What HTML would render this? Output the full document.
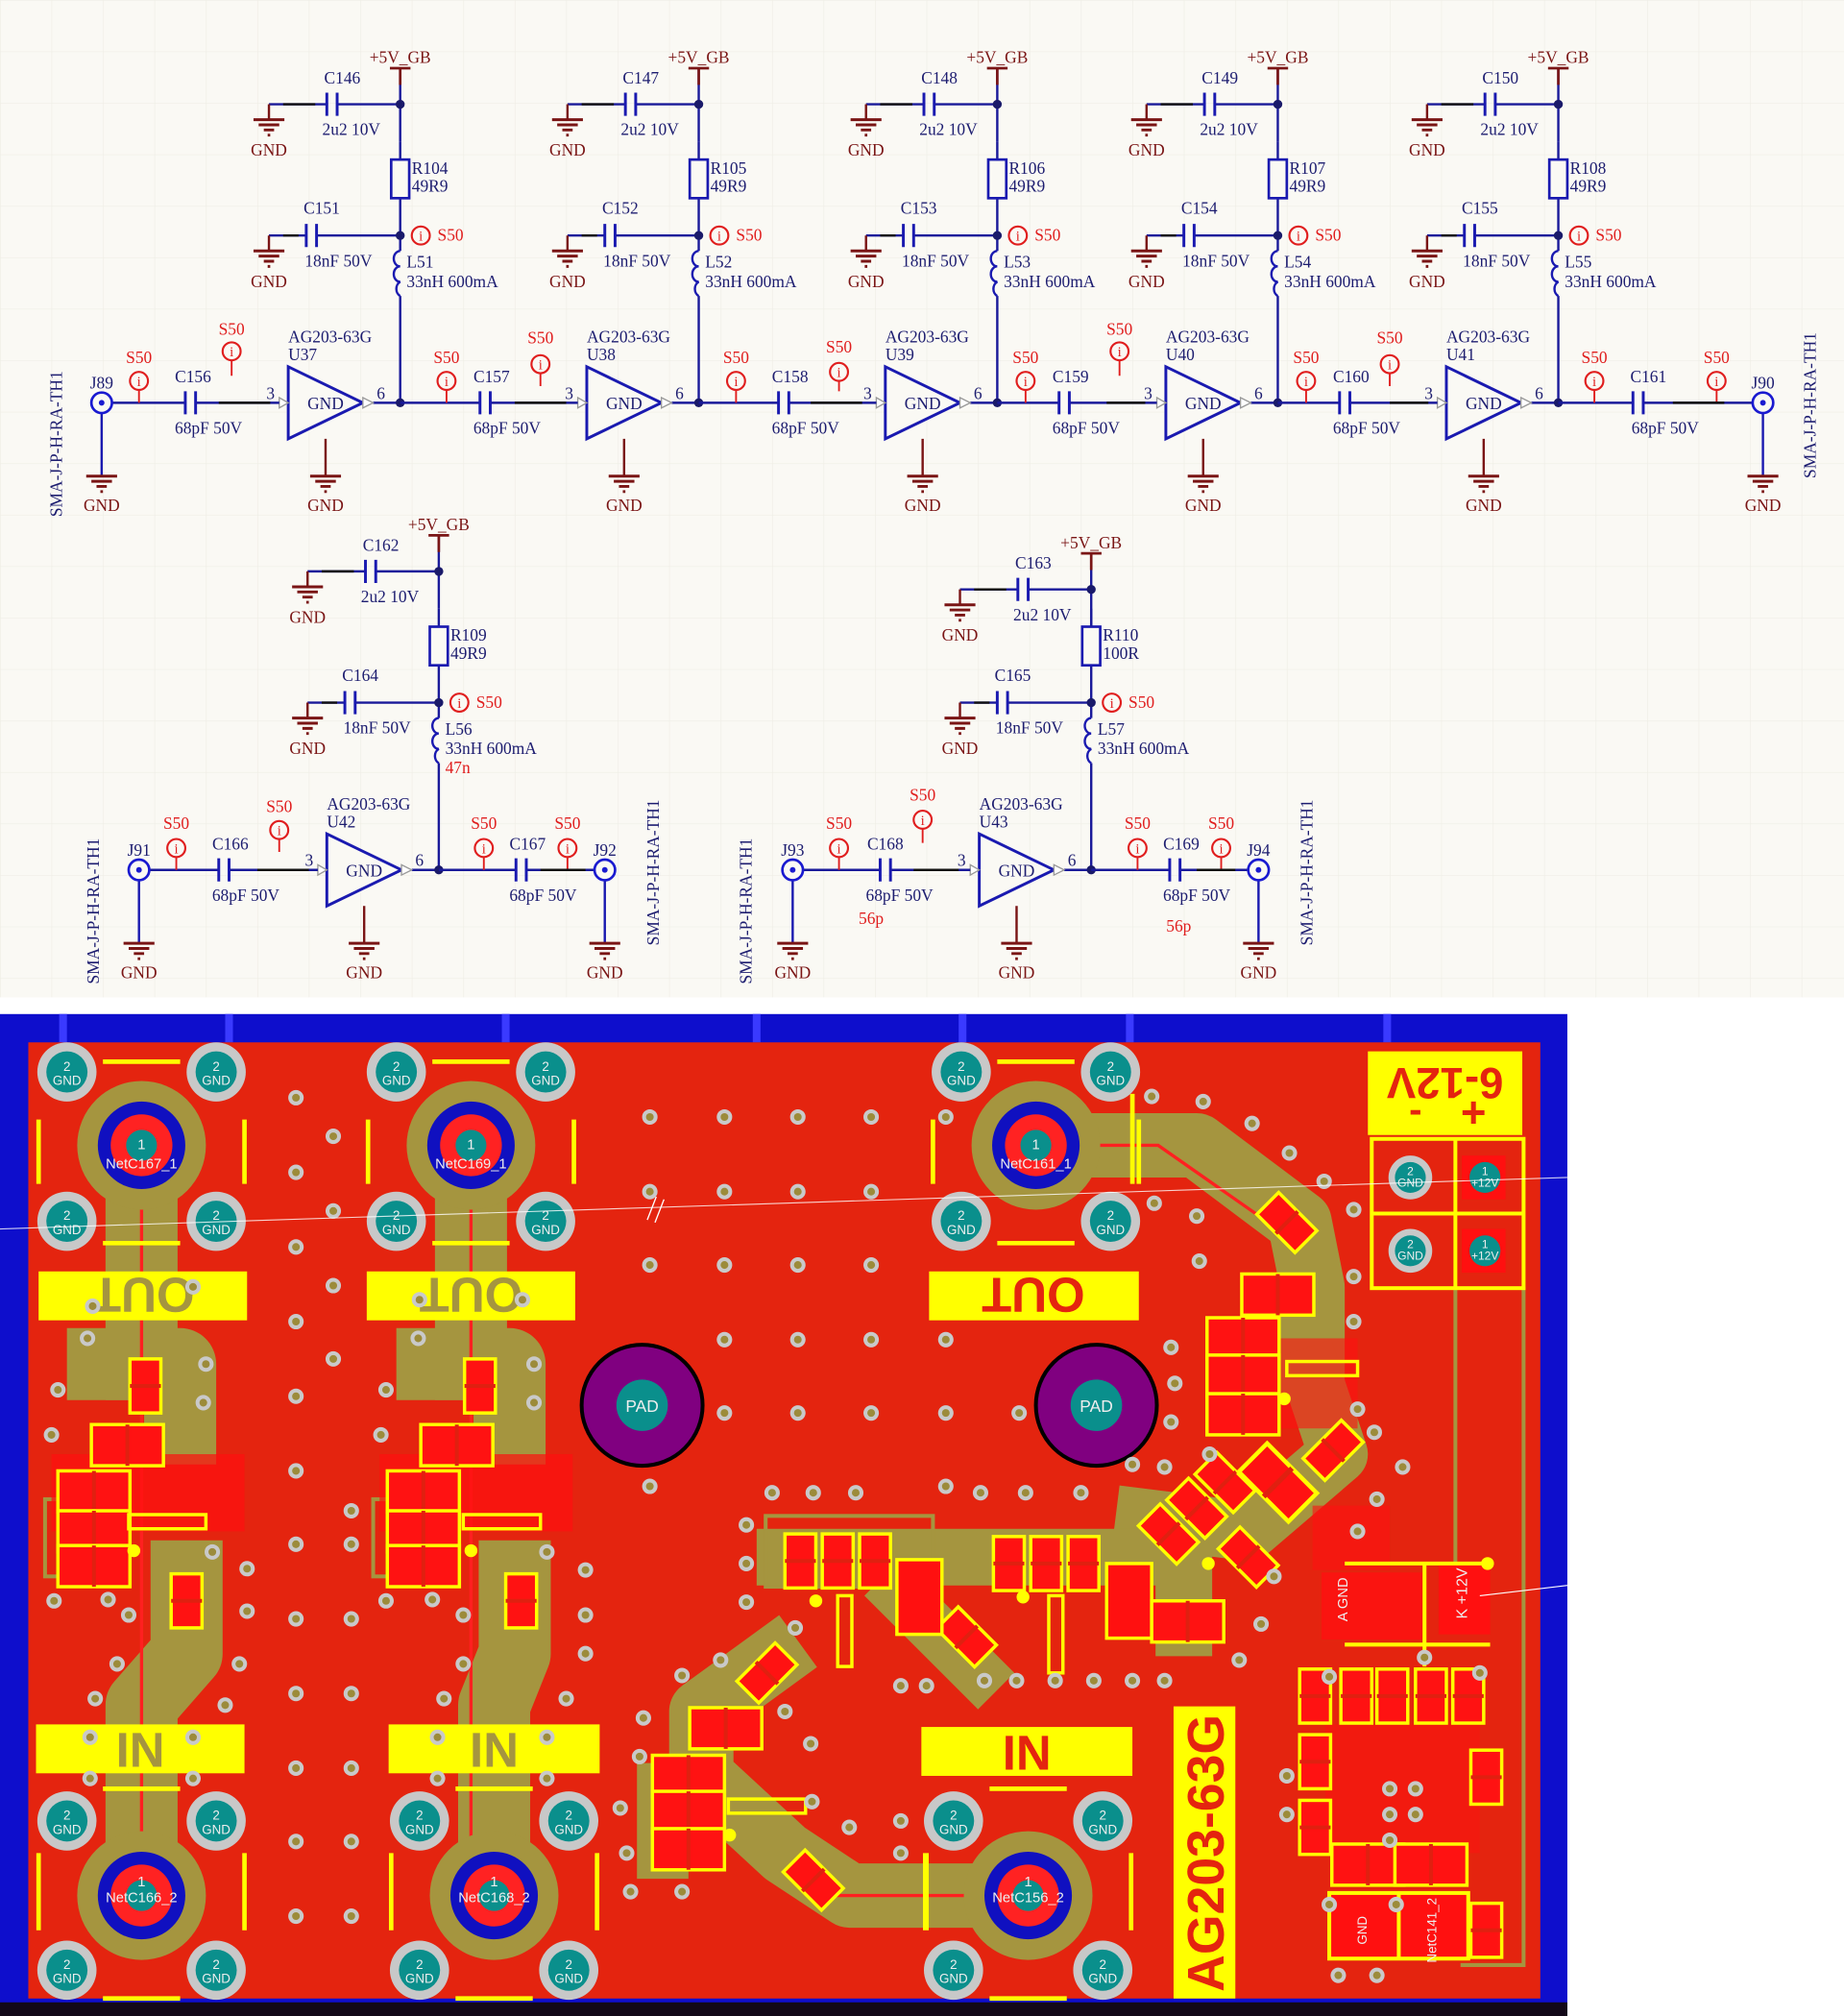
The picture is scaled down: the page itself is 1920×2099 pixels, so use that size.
<!DOCTYPE html>
<html><head><meta charset="utf-8">
<style>
html,body{margin:0;padding:0;background:#fff;}
svg{display:block;}
.s text{font-family:"Liberation Serif",serif;font-size:13px;fill:#1d1d70;}
.s text.dr{fill:#7a1515;}
.s text.rd{fill:#e01e1e;}
.s text.m{text-anchor:middle;}
.p text{font-family:"Liberation Sans",sans-serif;}
</style></head>
<body>
<svg width="1920" height="2099" viewBox="0 0 1433 1566.6" preserveAspectRatio="none" xmlns="http://www.w3.org/2000/svg">
<defs>
<pattern id="grid" width="40" height="40" patternUnits="userSpaceOnUse">
<path d="M40 0H0V40" fill="none" stroke="#efeee6" stroke-width="1"/>
</pattern>
<g id="gnd" stroke="#7a1515" stroke-width="2.2"><path d="M-12 0H12M-8 4H8M-4 8H4M-1 12H1"/></g>
<g id="cap" stroke="#1a1ab0" stroke-width="2.2"><path d="M-4 -9V9M4 -9V9"/></g>
<g id="s50"><circle r="7" fill="#faf9f4" stroke="#e01e1e" stroke-width="1.6"/><text y="4" text-anchor="middle" style="font-family:'Liberation Serif',serif;font-size:11px;fill:#e01e1e">i</text></g>
<g id="c1" fill="none" stroke-width="1.8">
<path d="M311 53V110" stroke="#1a1a9a"/>
<path d="M303 53H319M311 53V66" stroke="#7a1515" stroke-width="2"/>
<path d="M209 81H254M262 81H311" stroke="#1a1a9a"/>
<path d="M220 81H245" stroke="#111"/>
<path d="M209 81V93" stroke="#7a1515"/>
<path d="M254 72V90M262 72V90" stroke="#1a1ab0" stroke-width="2.2"/>
<circle cx="311" cy="81" r="3.5" fill="#1a1a6a" stroke="none"/>
<use href="#gnd" x="209" y="93"/>
</g>
<g id="stg" fill="none" stroke-width="1.8">
<path d="M311 110V124M311 154V195M311 230V313M290 313H311" stroke="#1a1a9a"/>
<path d="M209 183H238M246 183H311" stroke="#1a1a9a"/>
<path d="M220 183H232" stroke="#111"/>
<path d="M209 183V195M253 341V370" stroke="#7a1515"/>
<path d="M238 174V192M246 174V192" stroke="#1a1ab0" stroke-width="2.2"/>
<rect x="304" y="124" width="14" height="30" stroke="#1a1ab0" stroke-width="2"/>
<path d="M311 195a5 6 0 0 0 0 12a5 6 0 0 0 0 12a5 6 0 0 0 0 11" stroke="#1a1ab0" stroke-width="1.8"/>
<polygon points="224,285 282,313 224,341" stroke="#1a1ab0" stroke-width="2.2" fill="#faf9f4"/>
<polygon points="217,309 224,313 217,317" stroke="#999" fill="#fff" stroke-width="1"/>
<polygon points="282,309 290,313 282,317" stroke="#999" fill="#fff" stroke-width="1"/>
<circle cx="311" cy="183" r="3.5" fill="#1a1a6a" stroke="none"/>
<circle cx="311" cy="313" r="3.5" fill="#1a1a6a" stroke="none"/>
<use href="#gnd" x="209" y="195"/><use href="#gnd" x="253" y="370"/>
<use href="#s50" x="327" y="183"/>
</g>
<g id="jk"><circle r="8" fill="#faf9f4" stroke="#1a1ad0" stroke-width="2"/><circle r="2.2" fill="#1a1ad0"/></g>
<g id="via"><circle r="6" fill="#c9c9c9"/><circle r="3" fill="#9c8b3a"/></g>
<g id="gp"><circle r="23" fill="#c8c8c8"/><circle r="16" fill="#0a8f8c"/><text y="-1" text-anchor="middle" style="font-family:'Liberation Sans',sans-serif;font-size:10px;fill:#eee">2</text><text y="10" text-anchor="middle" style="font-family:'Liberation Sans',sans-serif;font-size:10px;fill:#eee">GND</text></g>
<g id="cm"><rect x="-12" y="-21" width="24" height="42" fill="#ff1212" stroke="#ffff00" stroke-width="2.6"/><path d="M-12 0H12" stroke="#e02010" stroke-width="3"/></g>
<g id="cmb"><rect x="-28" y="-16" width="56" height="32" fill="#ff1212" stroke="#ffff00" stroke-width="2.6"/><path d="M0 -16V16" stroke="#e02010" stroke-width="3"/></g>
</defs>

<rect x="0" y="0" width="1433" height="775" fill="#faf9f4"/>
<rect x="0" y="0" width="1433" height="775" fill="url(#grid)"/>
<g class="s">
<use href="#stg"/><use href="#c1"/>
<use href="#stg" transform="translate(232,0)"/><use href="#c1" transform="translate(232,0)"/>
<use href="#stg" transform="translate(464,0)"/><use href="#c1" transform="translate(464,0)"/>
<use href="#stg" transform="translate(682,0)"/><use href="#c1" transform="translate(682,0)"/>
<use href="#stg" transform="translate(900,0)"/><use href="#c1" transform="translate(900,0)"/>
<use href="#stg" transform="translate(30,363)"/><use href="#c1" transform="translate(30,363)"/>
<use href="#stg" transform="translate(537,363)"/><use href="#c1" transform="translate(537,377)"/>

<g fill="none" stroke="#1a1a9a" stroke-width="1.8">
<path d="M87 313H144M152 313H217"/>
<path d="M311 313H373M381 313H449"/>
<path d="M543 313H605M613 313H681"/>
<path d="M775 313H823M831 313H899"/>
<path d="M993 313H1041M1049 313H1117"/>
<path d="M1211 313H1269M1277 313H1362"/>
<path d="M108 676H170M178 676H247"/>
<path d="M341 676H401M409 676H462"/>
<path d="M624 676H684M692 676H754"/>
<path d="M848 676H909M917 676H970"/>
<path d="M79 321V370M1370 321V370M108 684V733M470 684V733M616 684V733M978 684V733" stroke="#1a1ab0"/>
<path d="M108 303V313M180 280V292M347 303V313M420 290V300M572 303V313M652 296V304M797 303V313M870 280V292M1015 303V313M1080 290V300M1239 303V313M1334 303V313M137 666V676M217 652V662M376 666V676M441 666V676M652 666V676M717 644V655M884 666V676M949 666V676" stroke="#e01e1e" stroke-width="1.4"/>
</g>
<g fill="none" stroke="#111" stroke-width="1.8"><path d="M170 313H210M400 313H440M630 313H670M860 313H890M1080 313H1110M1300 313H1340M200 676H240M420 676H455M710 676H745M930 676H960"/></g>
<use href="#cap" x="148" y="313"/><use href="#cap" x="377" y="313"/><use href="#cap" x="609" y="313"/><use href="#cap" x="827" y="313"/><use href="#cap" x="1045" y="313"/><use href="#cap" x="1273" y="313"/>
<use href="#cap" x="174" y="676"/><use href="#cap" x="405" y="676"/><use href="#cap" x="688" y="676"/><use href="#cap" x="913" y="676"/>
<use href="#jk" x="79" y="313"/><use href="#jk" x="1370" y="313"/><use href="#jk" x="108" y="676"/><use href="#jk" x="470" y="676"/><use href="#jk" x="616" y="676"/><use href="#jk" x="978" y="676"/>
<use href="#gnd" x="79" y="370"/><use href="#gnd" x="1370" y="370"/><use href="#gnd" x="108" y="733"/><use href="#gnd" x="470" y="733"/><use href="#gnd" x="616" y="733"/><use href="#gnd" x="978" y="733"/>
<use href="#s50" x="108" y="296"/><use href="#s50" x="180" y="273"/><use href="#s50" x="347" y="296"/><use href="#s50" x="420" y="283"/><use href="#s50" x="572" y="296"/><use href="#s50" x="652" y="289"/><use href="#s50" x="797" y="296"/><use href="#s50" x="870" y="273"/><use href="#s50" x="1015" y="296"/><use href="#s50" x="1080" y="283"/><use href="#s50" x="1239" y="296"/><use href="#s50" x="1334" y="296"/>
<use href="#s50" x="137" y="659"/><use href="#s50" x="217" y="645"/><use href="#s50" x="376" y="659"/><use href="#s50" x="441" y="659"/><use href="#s50" x="652" y="659"/><use href="#s50" x="717" y="637"/><use href="#s50" x="884" y="659"/><use href="#s50" x="949" y="659"/>

<g>
<text x="311" y="49" class="dr m">+5V_GB</text><text x="266" y="65" class="m">C146</text><text x="273" y="105" class="m">2u2 10V</text><text x="209" y="121" class="dr m">GND</text>
<text x="320" y="135">R104</text><text x="320" y="149">49R9</text><text x="250" y="166" class="m">C151</text><text x="263" y="207" class="m">18nF 50V</text><text x="209" y="223" class="dr m">GND</text>
<text x="340" y="187" class="rd">S50</text><text x="316" y="208">L51</text><text x="316" y="223">33nH 600mA</text>
<text x="224" y="266">AG203-63G</text><text x="224" y="280">U37</text><text x="207" y="310">3</text><text x="296" y="310" class="m">6</text><text x="253" y="318" class="m">GND</text><text x="253" y="397" class="dr m">GND</text>
</g>
<g transform="translate(232,0)">
<text x="311" y="49" class="dr m">+5V_GB</text><text x="266" y="65" class="m">C147</text><text x="273" y="105" class="m">2u2 10V</text><text x="209" y="121" class="dr m">GND</text>
<text x="320" y="135">R105</text><text x="320" y="149">49R9</text><text x="250" y="166" class="m">C152</text><text x="263" y="207" class="m">18nF 50V</text><text x="209" y="223" class="dr m">GND</text>
<text x="340" y="187" class="rd">S50</text><text x="316" y="208">L52</text><text x="316" y="223">33nH 600mA</text>
<text x="224" y="266">AG203-63G</text><text x="224" y="280">U38</text><text x="207" y="310">3</text><text x="296" y="310" class="m">6</text><text x="253" y="318" class="m">GND</text><text x="253" y="397" class="dr m">GND</text>
</g>
<g transform="translate(464,0)">
<text x="311" y="49" class="dr m">+5V_GB</text><text x="266" y="65" class="m">C148</text><text x="273" y="105" class="m">2u2 10V</text><text x="209" y="121" class="dr m">GND</text>
<text x="320" y="135">R106</text><text x="320" y="149">49R9</text><text x="250" y="166" class="m">C153</text><text x="263" y="207" class="m">18nF 50V</text><text x="209" y="223" class="dr m">GND</text>
<text x="340" y="187" class="rd">S50</text><text x="316" y="208">L53</text><text x="316" y="223">33nH 600mA</text>
<text x="224" y="266">AG203-63G</text><text x="224" y="280">U39</text><text x="207" y="310">3</text><text x="296" y="310" class="m">6</text><text x="253" y="318" class="m">GND</text><text x="253" y="397" class="dr m">GND</text>
</g>
<g transform="translate(682,0)">
<text x="311" y="49" class="dr m">+5V_GB</text><text x="266" y="65" class="m">C149</text><text x="273" y="105" class="m">2u2 10V</text><text x="209" y="121" class="dr m">GND</text>
<text x="320" y="135">R107</text><text x="320" y="149">49R9</text><text x="250" y="166" class="m">C154</text><text x="263" y="207" class="m">18nF 50V</text><text x="209" y="223" class="dr m">GND</text>
<text x="340" y="187" class="rd">S50</text><text x="316" y="208">L54</text><text x="316" y="223">33nH 600mA</text>
<text x="224" y="266">AG203-63G</text><text x="224" y="280">U40</text><text x="207" y="310">3</text><text x="296" y="310" class="m">6</text><text x="253" y="318" class="m">GND</text><text x="253" y="397" class="dr m">GND</text>
</g>
<g transform="translate(900,0)">
<text x="311" y="49" class="dr m">+5V_GB</text><text x="266" y="65" class="m">C150</text><text x="273" y="105" class="m">2u2 10V</text><text x="209" y="121" class="dr m">GND</text>
<text x="320" y="135">R108</text><text x="320" y="149">49R9</text><text x="250" y="166" class="m">C155</text><text x="263" y="207" class="m">18nF 50V</text><text x="209" y="223" class="dr m">GND</text>
<text x="340" y="187" class="rd">S50</text><text x="316" y="208">L55</text><text x="316" y="223">33nH 600mA</text>
<text x="224" y="266">AG203-63G</text><text x="224" y="280">U41</text><text x="207" y="310">3</text><text x="296" y="310" class="m">6</text><text x="253" y="318" class="m">GND</text><text x="253" y="397" class="dr m">GND</text>
</g>
<g transform="translate(30,363)">
<text x="311" y="49" class="dr m">+5V_GB</text><text x="266" y="65" class="m">C162</text><text x="273" y="105" class="m">2u2 10V</text><text x="209" y="121" class="dr m">GND</text>
<text x="320" y="135">R109</text><text x="320" y="149">49R9</text><text x="250" y="166" class="m">C164</text><text x="263" y="207" class="m">18nF 50V</text><text x="209" y="223" class="dr m">GND</text>
<text x="340" y="187" class="rd">S50</text><text x="316" y="208">L56</text><text x="316" y="223">33nH 600mA</text><text x="316" y="238" class="rd">47n</text>
<text x="224" y="266">AG203-63G</text><text x="224" y="280">U42</text><text x="207" y="310">3</text><text x="296" y="310" class="m">6</text><text x="253" y="318" class="m">GND</text><text x="253" y="397" class="dr m">GND</text>
</g>
<g transform="translate(537,363)">
<text x="311" y="63" class="dr m">+5V_GB</text><text x="266" y="79" class="m">C163</text><text x="273" y="119" class="m">2u2 10V</text><text x="209" y="135" class="dr m">GND</text>
<text x="320" y="135">R110</text><text x="320" y="149">100R</text><text x="250" y="166" class="m">C165</text><text x="263" y="207" class="m">18nF 50V</text><text x="209" y="223" class="dr m">GND</text>
<text x="340" y="187" class="rd">S50</text><text x="316" y="208">L57</text><text x="316" y="223">33nH 600mA</text>
<text x="224" y="266">AG203-63G</text><text x="224" y="280">U43</text><text x="207" y="310">3</text><text x="296" y="310" class="m">6</text><text x="253" y="318" class="m">GND</text><text x="253" y="397" class="dr m">GND</text>
</g>
<text x="79" y="302" class="m">J89</text><text x="150" y="297" class="m">C156</text><text x="162" y="337" class="m">68pF 50V</text><text x="79" y="397" class="dr m">GND</text>
<text x="108" y="282" class="rd m">S50</text><text x="180" y="260" class="rd m">S50</text>
<text x="382" y="297" class="m">C157</text><text x="394" y="337" class="m">68pF 50V</text><text x="347" y="282" class="rd m">S50</text><text x="420" y="267" class="rd m">S50</text>
<text x="614" y="297" class="m">C158</text><text x="626" y="337" class="m">68pF 50V</text><text x="572" y="282" class="rd m">S50</text><text x="652" y="274" class="rd m">S50</text>
<text x="832" y="297" class="m">C159</text><text x="844" y="337" class="m">68pF 50V</text><text x="797" y="282" class="rd m">S50</text><text x="870" y="260" class="rd m">S50</text>
<text x="1050" y="297" class="m">C160</text><text x="1062" y="337" class="m">68pF 50V</text><text x="1015" y="282" class="rd m">S50</text><text x="1080" y="267" class="rd m">S50</text>
<text x="1281" y="297" class="m">C161</text><text x="1294" y="337" class="m">68pF 50V</text><text x="1239" y="282" class="rd m">S50</text><text x="1334" y="282" class="rd m">S50</text>
<text x="1370" y="302" class="m">J90</text><text x="1370" y="397" class="dr m">GND</text>
<text transform="translate(48,345) rotate(-90)" class="m">SMA-J-P-H-RA-TH1</text>
<text transform="translate(1411,315) rotate(-90)" class="m">SMA-J-P-H-RA-TH1</text>
<text x="108" y="665" class="m">J91</text><text x="179" y="660" class="m">C166</text><text x="191" y="700" class="m">68pF 50V</text><text x="108" y="760" class="dr m">GND</text>
<text x="137" y="644" class="rd m">S50</text><text x="217" y="631" class="rd m">S50</text>
<text x="410" y="660" class="m">C167</text><text x="422" y="700" class="m">68pF 50V</text><text x="376" y="644" class="rd m">S50</text><text x="441" y="644" class="rd m">S50</text>
<text x="470" y="665" class="m">J92</text><text x="470" y="760" class="dr m">GND</text>
<text x="616" y="665" class="m">J93</text><text x="688" y="660" class="m">C168</text><text x="699" y="700" class="m">68pF 50V</text><text x="616" y="760" class="dr m">GND</text>
<text x="652" y="644" class="rd m">S50</text><text x="717" y="622" class="rd m">S50</text><text x="677" y="718" class="rd m">56p</text>
<text x="918" y="660" class="m">C169</text><text x="930" y="700" class="m">68pF 50V</text><text x="884" y="644" class="rd m">S50</text><text x="949" y="644" class="rd m">S50</text><text x="916" y="724" class="rd m">56p</text>
<text x="978" y="665" class="m">J94</text><text x="978" y="760" class="dr m">GND</text>
<text transform="translate(77,708) rotate(-90)" class="m">SMA-J-P-H-RA-TH1</text>
<text transform="translate(512,678) rotate(-90)" class="m">SMA-J-P-H-RA-TH1</text>
<text transform="translate(584,708) rotate(-90)" class="m">SMA-J-P-H-RA-TH1</text>
<text transform="translate(1020,678) rotate(-90)" class="m">SMA-J-P-H-RA-TH1</text>
</g>

<g class="p">
<rect x="0" y="788" width="1218" height="779" fill="#0e0ecc"/>
<g fill="#3a3aff"><rect x="46" y="788" width="6" height="22"/><rect x="175" y="788" width="6" height="22"/><rect x="390" y="788" width="6" height="22"/><rect x="585" y="788" width="6" height="22"/><rect x="745" y="788" width="6" height="22"/><rect x="875" y="788" width="6" height="22"/><rect x="1075" y="788" width="6" height="22"/></g>
<rect x="0" y="1556" width="1218" height="11" fill="#120818"/>
<rect x="22" y="810" width="1175" height="743" fill="#e4240f"/>

<g fill="none" stroke="#a5953f" stroke-linejoin="round" stroke-linecap="square">
<path d="M110 890V1060" stroke-width="56"/>
<path d="M80 1060H140V1110" stroke-width="56"/>
<path d="M145 1225V1285L110 1325V1473" stroke-width="56"/>
<path d="M366 890V1060" stroke-width="56"/>
<path d="M336 1060H396V1110" stroke-width="56"/>
<path d="M400 1225V1285L384 1325V1473" stroke-width="56"/>
<path d="M805 890H930L1010 950L1020 1000V1060" stroke-width="50"/>
<path d="M1020 1070L1040 1130L970 1190L890 1180" stroke-width="46"/>
<path d="M610 1210H920V1265" stroke-width="44"/>
<path d="M700 1240L760 1300" stroke-width="40"/>
<path d="M799 1473H660L610 1440L545 1380V1330L600 1290" stroke-width="50"/>
<path d="M515 1390V1440" stroke-width="40"/>
</g>
<g fill="none" stroke="#a5953f" stroke-width="3">
<path d="M1131 1000V1215M1184 1000V1527H1135"/>
<rect x="35" y="1165" width="30" height="60"/><rect x="290" y="1165" width="30" height="60"/><rect x="595" y="1178" width="130" height="55"/>
</g>
<g stroke="#ff2020" stroke-width="2.5" fill="none">
<path d="M110 890V1473M366 890V1473M805 890H900L1000 960M799 1473H650"/>
</g>
<g fill="#ff1010">
<rect x="40" y="1130" width="150" height="60" opacity="0.7"/><rect x="295" y="1130" width="150" height="60" opacity="0.7"/>
<rect x="940" y="1040" width="115" height="70" opacity="0.6"/><rect x="1020" y="1170" width="60" height="50" opacity="0.6"/>
<rect x="1030" y="1340" width="120" height="100" opacity="0.5"/>
</g>

<g>
<circle cx="110" cy="890" r="50" fill="#a5953f"/><circle cx="110" cy="890" r="34" fill="#1010c0"/><circle cx="110" cy="890" r="24" fill="#ff2222"/><circle cx="110" cy="890" r="12" fill="#0a8f8c"/>
<circle cx="366" cy="890" r="50" fill="#a5953f"/><circle cx="366" cy="890" r="34" fill="#1010c0"/><circle cx="366" cy="890" r="24" fill="#ff2222"/><circle cx="366" cy="890" r="12" fill="#0a8f8c"/>
<circle cx="805" cy="890" r="50" fill="#a5953f"/><circle cx="805" cy="890" r="34" fill="#1010c0"/><circle cx="805" cy="890" r="24" fill="#ff2222"/><circle cx="805" cy="890" r="12" fill="#0a8f8c"/>
<circle cx="110" cy="1473" r="50" fill="#a5953f"/><circle cx="110" cy="1473" r="34" fill="#1010c0"/><circle cx="110" cy="1473" r="24" fill="#ff2222"/><circle cx="110" cy="1473" r="12" fill="#0a8f8c"/>
<circle cx="384" cy="1473" r="50" fill="#a5953f"/><circle cx="384" cy="1473" r="34" fill="#1010c0"/><circle cx="384" cy="1473" r="24" fill="#ff2222"/><circle cx="384" cy="1473" r="12" fill="#0a8f8c"/>
<circle cx="799" cy="1473" r="50" fill="#a5953f"/><circle cx="799" cy="1473" r="34" fill="#1010c0"/><circle cx="799" cy="1473" r="24" fill="#ff2222"/><circle cx="799" cy="1473" r="12" fill="#0a8f8c"/>
</g>
<g style="font-size:11px;fill:#eee" text-anchor="middle">
<text x="110" y="893">1</text><text x="110" y="908">NetC167_1</text>
<text x="366" y="893">1</text><text x="366" y="908">NetC169_1</text>
<text x="805" y="893">1</text><text x="805" y="908">NetC161_1</text>
<text x="110" y="1466">1</text><text x="110" y="1478">NetC166_2</text>
<text x="384" y="1466">1</text><text x="384" y="1478">NetC168_2</text>
<text x="799" y="1466">1</text><text x="799" y="1478">NetC156_2</text>
</g>
<use href="#gp" x="52" y="833"/><use href="#gp" x="168" y="833"/><use href="#gp" x="52" y="949"/><use href="#gp" x="168" y="949"/>
<use href="#gp" x="308" y="833"/><use href="#gp" x="424" y="833"/><use href="#gp" x="308" y="949"/><use href="#gp" x="424" y="949"/>
<use href="#gp" x="747" y="833"/><use href="#gp" x="863" y="833"/><use href="#gp" x="747" y="949"/><use href="#gp" x="863" y="949"/>
<use href="#gp" x="52" y="1415"/><use href="#gp" x="168" y="1415"/><use href="#gp" x="52" y="1531"/><use href="#gp" x="168" y="1531"/>
<use href="#gp" x="326" y="1415"/><use href="#gp" x="442" y="1415"/><use href="#gp" x="326" y="1531"/><use href="#gp" x="442" y="1531"/>
<use href="#gp" x="741" y="1415"/><use href="#gp" x="857" y="1415"/><use href="#gp" x="741" y="1531"/><use href="#gp" x="857" y="1531"/>

<g stroke="#ffff00" stroke-width="3.5">
<path d="M80 825H140M80 966H140M30 870V920M190 870V920M336 825H396M336 966H396M286 870V920M446 870V920M775 825H835M775 966H835M725 870V920M885 870V920M880 850V920"/>
<path d="M80 1390H140M80 1553H140M30 1440V1500M190 1440V1500M354 1390H414M354 1553H414M304 1440V1500M464 1440V1500M769 1390H829M769 1553H829M719 1440V1500M879 1440V1500M720 1440V1500"/>
</g>
<rect x="30" y="988" width="162" height="38" fill="#ffff00"/>
<rect x="285" y="988" width="162" height="38" fill="#ffff00"/>
<rect x="722" y="988" width="163" height="38" fill="#ffff00"/>
<rect x="28" y="1340" width="162" height="38" fill="#ffff00"/>
<rect x="302" y="1340" width="164" height="38" fill="#ffff00"/>
<rect x="716" y="1342" width="164" height="38" fill="#ffff00"/>
<g style="font-size:38px;font-weight:bold;fill:#a5953f" text-anchor="middle">
<text transform="translate(111,993) rotate(180)">OUT</text>
<text transform="translate(366,993) rotate(180)">OUT</text>
<text transform="translate(803,993) rotate(180)" style="fill:#e4240f">OUT</text>
<text x="109" y="1373">IN</text><text x="384" y="1373">IN</text>
<text x="798" y="1375" style="fill:#e4240f">IN</text>
</g>
<rect x="912" y="1326" width="48" height="227" fill="#ffff00"/>
<text transform="translate(951,1440) rotate(-90)" text-anchor="middle" style="font-size:40px;font-weight:bold;fill:#e4240f">AG203-63G</text>
<rect x="1063" y="817" width="120" height="65" fill="#ffff00"/>
<text transform="translate(1123,830) rotate(180)" text-anchor="middle" style="font-size:34px;font-weight:bold;fill:#e4240f">6-12V</text>
<text x="1100" y="872" text-anchor="middle" style="font-size:30px;font-weight:bold;fill:#e4240f">-</text>
<text x="1145" y="876" text-anchor="middle" style="font-size:34px;font-weight:bold;fill:#e4240f">+</text>
<rect x="1066" y="885" width="118" height="116" fill="none" stroke="#ffff00" stroke-width="3"/>
<path d="M1066 943H1184M1131 885V1001" stroke="#ffff00" stroke-width="3"/>
<circle cx="1096" cy="915" r="17" fill="#c8c8c8"/><circle cx="1096" cy="915" r="12" fill="#0a8f8c"/>
<circle cx="1096" cy="972" r="17" fill="#c8c8c8"/><circle cx="1096" cy="972" r="12" fill="#0a8f8c"/>
<rect x="1136" y="898" width="34" height="34" fill="#ff1010"/><circle cx="1154" cy="915" r="12" fill="#0a8f8c"/>
<rect x="1136" y="955" width="34" height="34" fill="#ff1010"/><circle cx="1154" cy="972" r="12" fill="#0a8f8c"/>
<g style="font-size:9px;fill:#eee" text-anchor="middle"><text x="1096" y="913">2</text><text x="1096" y="922">GND</text><text x="1096" y="970">2</text><text x="1096" y="979">GND</text><text x="1154" y="913">1</text><text x="1154" y="922">+12V</text><text x="1154" y="970">1</text><text x="1154" y="979">+12V</text></g>

<circle cx="499" cy="1092" r="47" fill="#800080" stroke="#000" stroke-width="3"/><circle cx="499" cy="1092" r="20" fill="#0a8f8c"/>
<circle cx="852" cy="1092" r="47" fill="#800080" stroke="#000" stroke-width="3"/><circle cx="852" cy="1092" r="20" fill="#0a8f8c"/>
<text x="499" y="1097" text-anchor="middle" style="font-size:13px;fill:#eee">PAD</text>
<text x="852" y="1097" text-anchor="middle" style="font-size:13px;fill:#eee">PAD</text>

<rect x="1027" y="1222" width="80" height="52" fill="#ff1010" opacity="0.8"/>
<rect x="1118" y="1215" width="40" height="55" fill="#ff1010"/>
<path d="M1045 1215H1158M1045 1278H1158M1107 1215V1295" stroke="#ffff00" stroke-width="3"/>
<text transform="translate(1047,1260) rotate(-90)" style="font-size:11px;fill:#eee">A GND</text>
<text transform="translate(1140,1258) rotate(-90)" style="font-size:12px;fill:#eee">K +12V</text>

<use href="#cm" x="113" y="1077"/><use href="#cmb" x="99" y="1123"/>
<use href="#cmb" x="73" y="1159"/><use href="#cmb" x="73" y="1190"/><use href="#cmb" x="73" y="1217"/>
<rect x="100" y="1177" width="60" height="11" fill="none" stroke="#ffff00" stroke-width="2.6"/>
<use href="#cm" x="145" y="1244"/>
<use href="#cm" x="373" y="1077"/><use href="#cmb" x="355" y="1123"/>
<use href="#cmb" x="329" y="1159"/><use href="#cmb" x="329" y="1190"/><use href="#cmb" x="329" y="1217"/>
<rect x="360" y="1177" width="60" height="11" fill="none" stroke="#ffff00" stroke-width="2.6"/>
<use href="#cm" x="405" y="1244"/>
<use href="#cm" x="1000" y="950" transform="rotate(-45 1000 950)"/>
<use href="#cmb" x="993" y="1006"/>
<use href="#cmb" x="966" y="1040"/><use href="#cmb" x="966" y="1069"/><use href="#cmb" x="966" y="1099"/>
<rect x="1000" y="1058" width="55" height="11" fill="none" stroke="#ffff00" stroke-width="2.6"/>
<use href="#cm" x="908" y="1192" transform="rotate(-45 908 1192)"/>
<use href="#cm" x="930" y="1172" transform="rotate(-45 930 1172)"/>
<use href="#cm" x="952" y="1152" transform="rotate(-45 952 1152)"/>
<use href="#cm" transform="translate(993 1152) rotate(-45) scale(1.3)"/>
<use href="#cm" x="1036" y="1127" transform="rotate(45 1036 1127)"/>
<use href="#cm" x="970" y="1210" transform="rotate(-45 970 1210)"/>
<use href="#cm" x="784" y="1215"/><use href="#cm" x="813" y="1215"/><use href="#cm" x="842" y="1215"/>
<rect x="860" y="1215" width="35" height="58" fill="#ff1010" stroke="#ffff00" stroke-width="2.6"/>
<use href="#cmb" x="923" y="1260"/>
<use href="#cm" x="751" y="1272" transform="rotate(-45 751 1272)"/>
<rect x="815" y="1240" width="11" height="60" fill="none" stroke="#ffff00" stroke-width="2.6"/>
<use href="#cm" x="622" y="1213"/><use href="#cm" x="651" y="1213"/><use href="#cm" x="680" y="1213"/>
<rect x="697" y="1212" width="35" height="58" fill="#ff1010" stroke="#ffff00" stroke-width="2.6"/>
<rect x="651" y="1240" width="11" height="55" fill="none" stroke="#ffff00" stroke-width="2.6"/>
<use href="#cm" x="596" y="1300" transform="rotate(45 596 1300)"/>
<use href="#cmb" x="564" y="1343"/>
<use href="#cmb" x="535" y="1380"/><use href="#cmb" x="535" y="1408"/><use href="#cmb" x="535" y="1437"/>
<rect x="566" y="1398" width="60" height="11" fill="none" stroke="#ffff00" stroke-width="2.6"/>
<use href="#cm" x="632" y="1461" transform="rotate(-45 632 1461)"/>
<use href="#cm" x="1022" y="1318"/><use href="#cm" x="1054" y="1318"/><use href="#cm" x="1082" y="1318"/><use href="#cm" x="1112" y="1318"/><use href="#cm" x="1141" y="1318"/>
<use href="#cm" x="1022" y="1369"/><use href="#cm" x="1022" y="1420"/><use href="#cm" x="1155" y="1381"/>
<use href="#cmb" x="1063" y="1449"/><use href="#cmb" x="1112" y="1449"/>
<rect x="1033" y="1471" width="108" height="51" fill="#ff1010" stroke="#ffff00" stroke-width="3"/>
<path d="M1087 1471V1522" stroke="#ffff00" stroke-width="3"/>
<use href="#cm" x="1155" y="1500"/>
<text transform="translate(1062,1500) rotate(-90)" text-anchor="middle" style="font-size:10px;fill:#eee">GND</text>
<text transform="translate(1116,1500) rotate(-90)" text-anchor="middle" style="font-size:10px;fill:#eee">NetC141_2</text>

<g fill="#ffff00"><circle cx="104" cy="1205" r="5"/><circle cx="366" cy="1205" r="5"/><circle cx="634" cy="1244" r="5"/><circle cx="998" cy="1087" r="5"/><circle cx="939" cy="1215" r="5"/><circle cx="795" cy="1241" r="5"/><circle cx="567" cy="1426" r="5"/><circle cx="1156" cy="1215" r="5"/></g>

<g>
<use href="#via" x="230" y="853"/><use href="#via" x="230" y="911"/><use href="#via" x="230" y="969"/><use href="#via" x="230" y="1027"/><use href="#via" x="230" y="1085"/><use href="#via" x="230" y="1143"/><use href="#via" x="230" y="1200"/><use href="#via" x="230" y="1258"/><use href="#via" x="230" y="1316"/><use href="#via" x="230" y="1374"/><use href="#via" x="230" y="1431"/><use href="#via" x="230" y="1489"/>
<use href="#via" x="259" y="883"/><use href="#via" x="259" y="941"/><use href="#via" x="259" y="999"/><use href="#via" x="259" y="1056"/><use href="#via" x="273" y="1174"/><use href="#via" x="273" y="1200"/><use href="#via" x="273" y="1258"/><use href="#via" x="273" y="1316"/><use href="#via" x="273" y="1374"/><use href="#via" x="273" y="1431"/><use href="#via" x="273" y="1489"/>
<use href="#via" x="72" y="1015"/><use href="#via" x="150" y="1000"/><use href="#via" x="68" y="1040"/><use href="#via" x="45" y="1080"/><use href="#via" x="160" y="1060"/><use href="#via" x="158" y="1090"/><use href="#via" x="40" y="1115"/><use href="#via" x="42" y="1244"/><use href="#via" x="84" y="1243"/><use href="#via" x="165" y="1206"/><use href="#via" x="192" y="1219"/><use href="#via" x="192" y="1252"/><use href="#via" x="100" y="1255"/><use href="#via" x="91" y="1293"/><use href="#via" x="186" y="1293"/><use href="#via" x="74" y="1320"/><use href="#via" x="175" y="1325"/><use href="#via" x="70" y="1350"/><use href="#via" x="150" y="1350"/><use href="#via" x="70" y="1382"/><use href="#via" x="150" y="1382"/>
<use href="#via" x="326" y="1010"/><use href="#via" x="406" y="1010"/><use href="#via" x="325" y="1040"/><use href="#via" x="300" y="1080"/><use href="#via" x="415" y="1060"/><use href="#via" x="415" y="1090"/><use href="#via" x="296" y="1115"/><use href="#via" x="300" y="1244"/><use href="#via" x="336" y="1243"/><use href="#via" x="425" y="1206"/><use href="#via" x="455" y="1220"/><use href="#via" x="455" y="1255"/><use href="#via" x="360" y="1255"/><use href="#via" x="360" y="1293"/><use href="#via" x="455" y="1285"/><use href="#via" x="345" y="1320"/><use href="#via" x="440" y="1320"/><use href="#via" x="340" y="1350"/><use href="#via" x="425" y="1350"/><use href="#via" x="340" y="1382"/><use href="#via" x="425" y="1382"/>
<use href="#via" x="505" y="868"/><use href="#via" x="563" y="868"/><use href="#via" x="620" y="868"/><use href="#via" x="677" y="868"/><use href="#via" x="735" y="868"/>
<use href="#via" x="505" y="926"/><use href="#via" x="563" y="926"/><use href="#via" x="620" y="926"/><use href="#via" x="677" y="926"/>
<use href="#via" x="505" y="983"/><use href="#via" x="563" y="983"/><use href="#via" x="620" y="983"/><use href="#via" x="677" y="983"/>
<use href="#via" x="563" y="1041"/><use href="#via" x="620" y="1041"/><use href="#via" x="677" y="1041"/><use href="#via" x="735" y="1041"/>
<use href="#via" x="563" y="1098"/><use href="#via" x="620" y="1098"/><use href="#via" x="677" y="1098"/><use href="#via" x="735" y="1098"/><use href="#via" x="792" y="1098"/>
<use href="#via" x="505" y="1155"/><use href="#via" x="600" y="1160"/><use href="#via" x="632" y="1160"/><use href="#via" x="665" y="1160"/><use href="#via" x="735" y="1155"/><use href="#via" x="762" y="1160"/><use href="#via" x="797" y="1160"/><use href="#via" x="840" y="1160"/>
<use href="#via" x="895" y="852"/><use href="#via" x="935" y="856"/><use href="#via" x="973" y="873"/><use href="#via" x="1002" y="896"/><use href="#via" x="1029" y="918"/><use href="#via" x="1052" y="940"/><use href="#via" x="897" y="935"/><use href="#via" x="930" y="945"/><use href="#via" x="932" y="980"/><use href="#via" x="1052" y="992"/><use href="#via" x="1052" y="1027"/><use href="#via" x="1055" y="1095"/><use href="#via" x="1068" y="1113"/><use href="#via" x="1090" y="1140"/><use href="#via" x="1070" y="1165"/><use href="#via" x="1055" y="1190"/><use href="#via" x="910" y="1047"/><use href="#via" x="913" y="1075"/><use href="#via" x="910" y="1105"/><use href="#via" x="880" y="1138"/><use href="#via" x="905" y="1140"/><use href="#via" x="940" y="1130"/><use href="#via" x="990" y="1225"/><use href="#via" x="980" y="1262"/><use href="#via" x="963" y="1290"/>
<use href="#via" x="580" y="1185"/><use href="#via" x="580" y="1215"/><use href="#via" x="580" y="1245"/><use href="#via" x="618" y="1265"/><use href="#via" x="560" y="1290"/><use href="#via" x="530" y="1302"/><use href="#via" x="500" y="1335"/><use href="#via" x="497" y="1365"/><use href="#via" x="482" y="1405"/><use href="#via" x="487" y="1440"/><use href="#via" x="490" y="1470"/><use href="#via" x="530" y="1470"/><use href="#via" x="610" y="1330"/><use href="#via" x="630" y="1355"/><use href="#via" x="631" y="1400"/><use href="#via" x="660" y="1420"/><use href="#via" x="700" y="1415"/><use href="#via" x="700" y="1440"/><use href="#via" x="700" y="1310"/><use href="#via" x="720" y="1310"/><use href="#via" x="765" y="1306"/><use href="#via" x="790" y="1306"/><use href="#via" x="820" y="1306"/><use href="#via" x="850" y="1306"/><use href="#via" x="880" y="1306"/><use href="#via" x="905" y="1306"/>
<use href="#via" x="1033" y="1303"/><use href="#via" x="1107" y="1288"/><use href="#via" x="1150" y="1300"/><use href="#via" x="1000" y="1380"/><use href="#via" x="1000" y="1410"/><use href="#via" x="1080" y="1390"/><use href="#via" x="1080" y="1410"/><use href="#via" x="1080" y="1430"/><use href="#via" x="1100" y="1390"/><use href="#via" x="1100" y="1410"/><use href="#via" x="1033" y="1480"/><use href="#via" x="1085" y="1480"/><use href="#via" x="1040" y="1535"/><use href="#via" x="1070" y="1535"/>
</g>
<path d="M0 955L1218 915" stroke="#fff" stroke-width="0.8" opacity="0.8"/>
<path d="M1150 1240L1218 1232" stroke="#fff" stroke-width="0.8"/>
<path d="M503 948L510 930M509 950L516 932" stroke="#fff" stroke-width="1"/>
</g>
</svg>
</body></html>
